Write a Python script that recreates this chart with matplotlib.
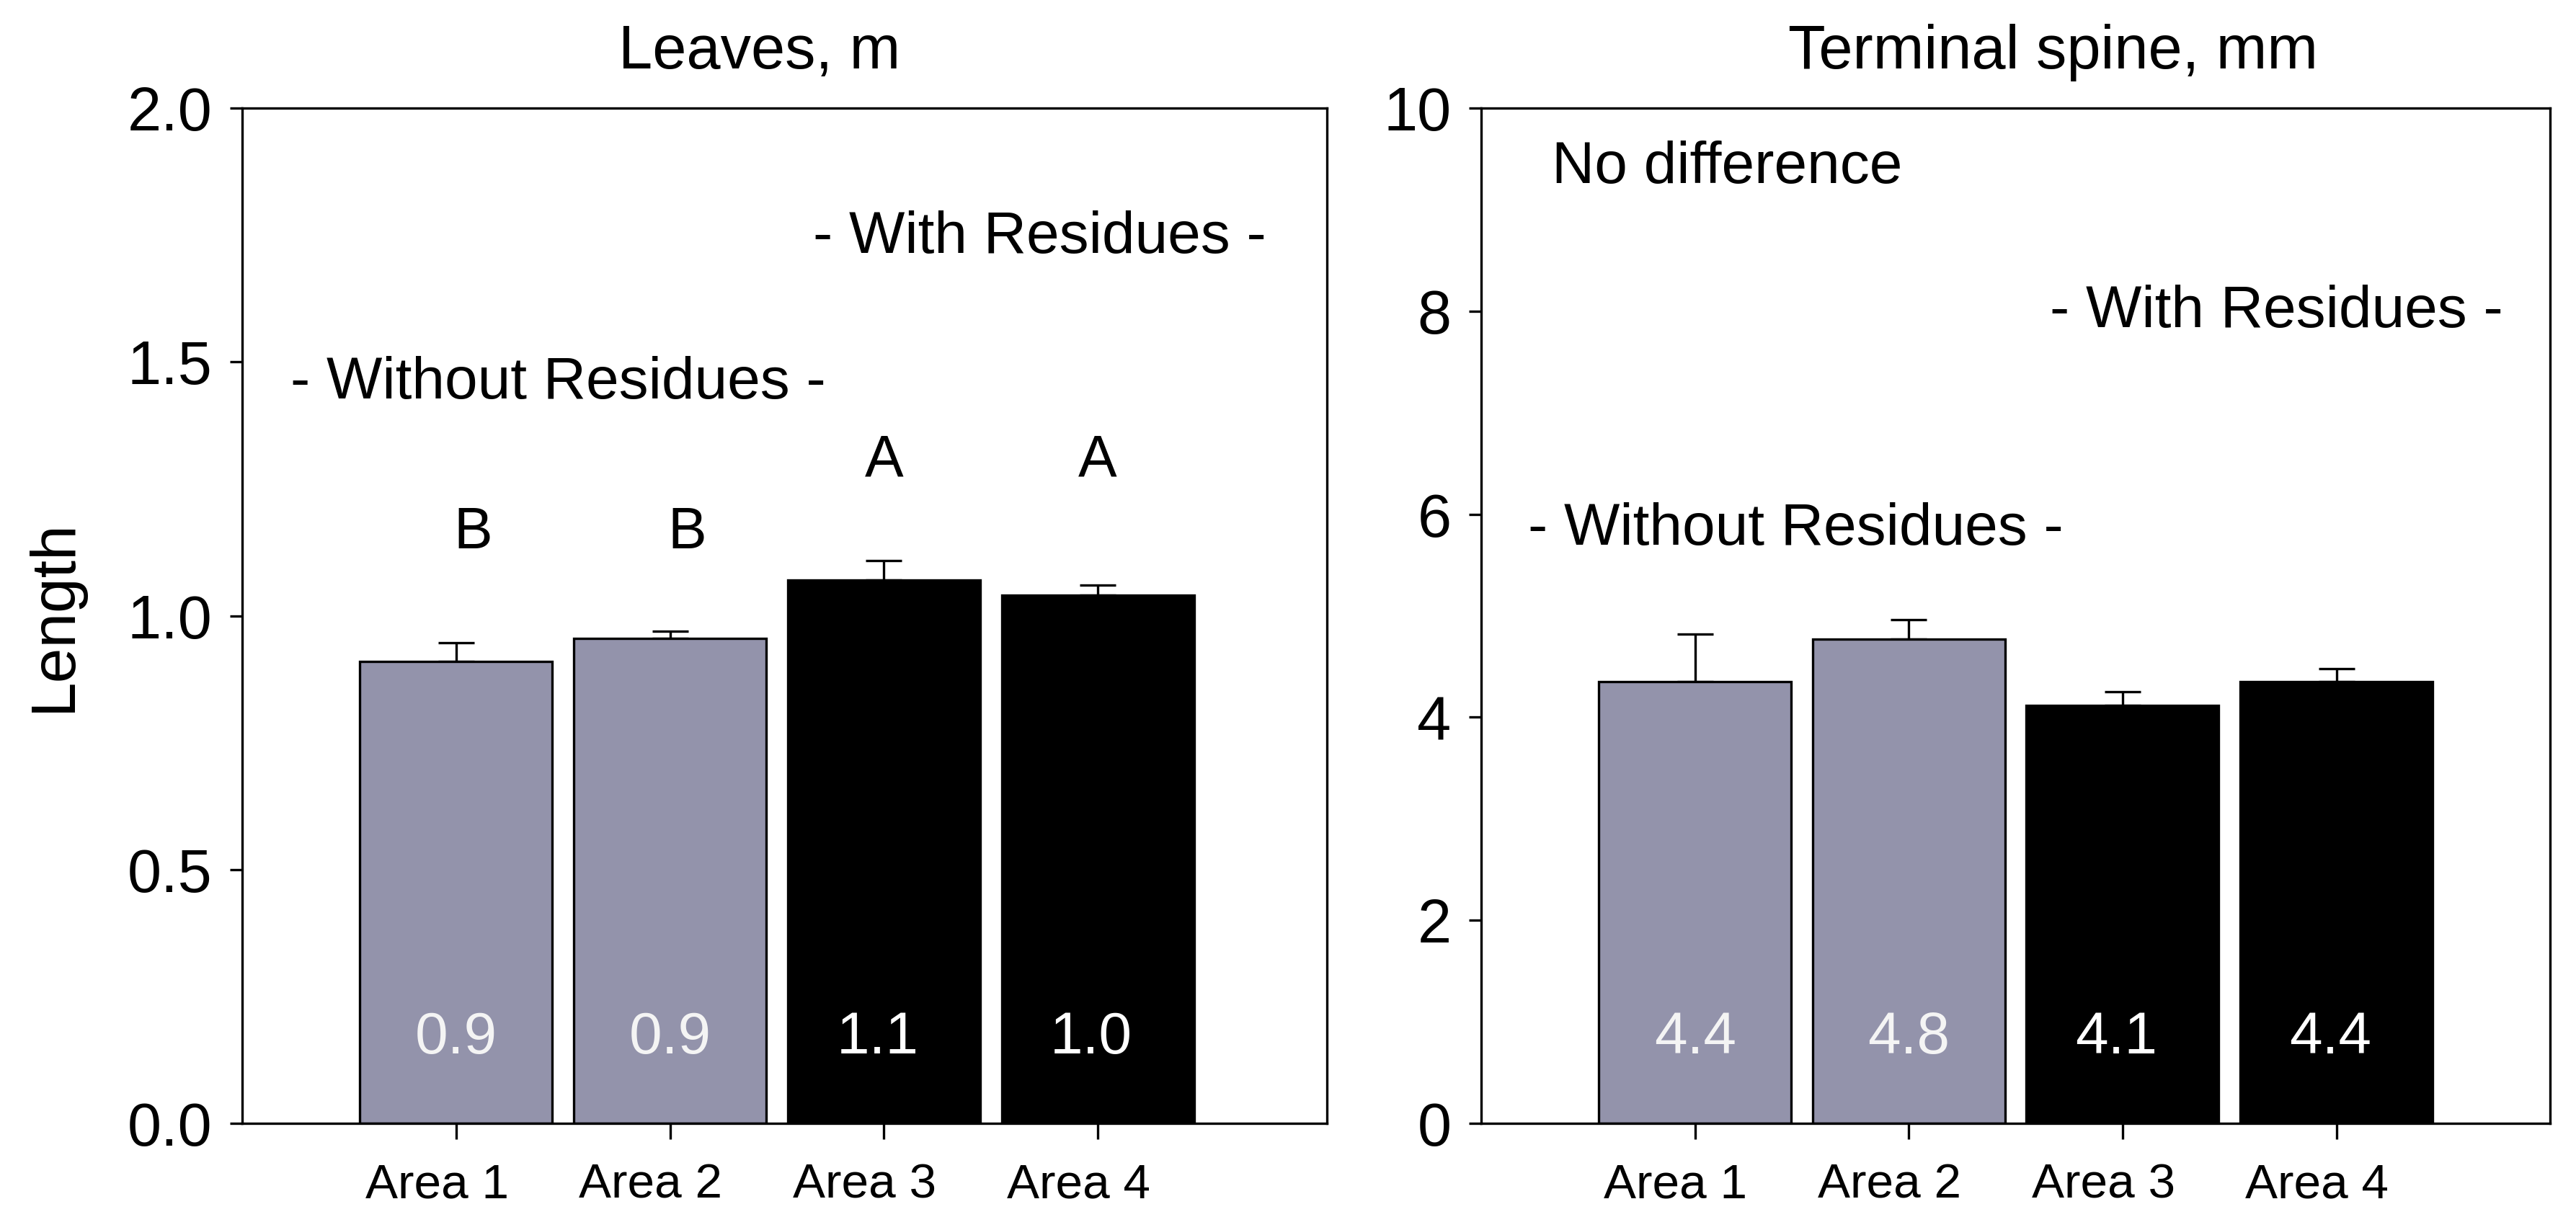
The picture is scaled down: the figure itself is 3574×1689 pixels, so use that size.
import numpy as np
import matplotlib.pyplot as plt

plt.rcParams['font.family'] = ['Liberation Sans', 'DejaVu Sans']

# data
areas = ['Area 1', 'Area 2', 'Area 3', 'Area 4']
leaves = [0.91, 0.956, 1.071, 1.041]
leaves_err = [0.037, 0.013, 0.038, 0.019]
leaves_lbl = ['0.9', '0.9', '1.1', '1.0']
leaves_grp = ['B', 'B', 'A', 'A']
spine = [4.35, 4.77, 4.12, 4.35]
spine_err = [0.47, 0.19, 0.13, 0.13]
spine_lbl = ['4.4', '4.8', '4.1', '4.4']

colors = ['#9393ab', '#9393ab', 'black', 'black']
lbl_colors = ['#f4f4f4', '#f4f4f4', 'white', 'white']

fig = plt.figure(figsize=(17.87, 8.445), dpi=200)
ax1 = fig.add_axes([0.094, 0.077, 0.421, 0.834])
ax2 = fig.add_axes([0.575, 0.077, 0.415, 0.834])

x = np.arange(1, 5)


def draw(ax, vals, errs, lbls, lbl_y):
    ax.bar(x, vals, width=0.9, color=colors, edgecolor='black', linewidth=1.2, zorder=2)
    ax.errorbar(x, vals, yerr=[np.zeros(4), errs], fmt='none', ecolor='black',
                elinewidth=1.2, capsize=9, capthick=1.2, zorder=1)
    for xi, t, c in zip(x, lbls, lbl_colors):
        ax.text(xi - 0.03 * (xi > 2), lbl_y, t, color=c, fontsize=29.5,
                ha='center', va='center')
    # tick marks at the bars, labels sit a little to the left (minor ticks carry them)
    ax.set_xticks(x, labels=[])
    ax.set_xticks(x - 0.09, labels=areas, minor=True, fontsize=24.3)
    ax.tick_params(axis='x', which='major', direction='out', length=8, width=1.2)
    ax.tick_params(axis='x', which='minor', length=0, pad=20)
    ax.tick_params(axis='y', direction='out', length=6, width=1.2, labelsize=30.5, pad=9)
    for s in ax.spines.values():
        s.set_linewidth(1.2)


# left panel: leaves
draw(ax1, leaves, leaves_err, leaves_lbl, 0.168)
ax1.set_xlim(0, 5.07)
ax1.set_ylim(0, 2.0)
ax1.set_yticks([0.0, 0.5, 1.0, 1.5, 2.0])
ax1.set_yticklabels(['0.0', '0.5', '1.0', '1.5', '2.0'])
ax1.set_ylabel('Length', fontsize=31.5, labelpad=22)
ax1.set_title('Leaves, m', fontsize=30.5, x=0.477, pad=20)
for xi, g, yy in zip(x, leaves_grp, [1.163, 1.163, 1.305, 1.305]):
    ax1.text(xi + 0.08 * (xi < 3), yy, g, fontsize=29, ha='center', va='center')
ax1.text(0.225, 1.458, '- Without Residues -', fontsize=29.5, va='center')
ax1.text(2.67, 1.745, '- With Residues -', fontsize=29.5, va='center')

# right panel: terminal spine
draw(ax2, spine, spine_err, spine_lbl, 0.84)
ax2.set_xlim(0, 5)
ax2.set_ylim(0, 10)
ax2.set_yticks([0, 2, 4, 6, 8, 10])
ax2.set_title('Terminal spine, mm', fontsize=30.5, x=0.535, pad=20)
ax2.text(0.33, 9.41, 'No difference', fontsize=29.5, va='center')
ax2.text(2.66, 7.99, '- With Residues -', fontsize=29.5, va='center')
ax2.text(0.22, 5.85, '- Without Residues -', fontsize=29.5, va='center')

fig.savefig('out.png', dpi=200)
